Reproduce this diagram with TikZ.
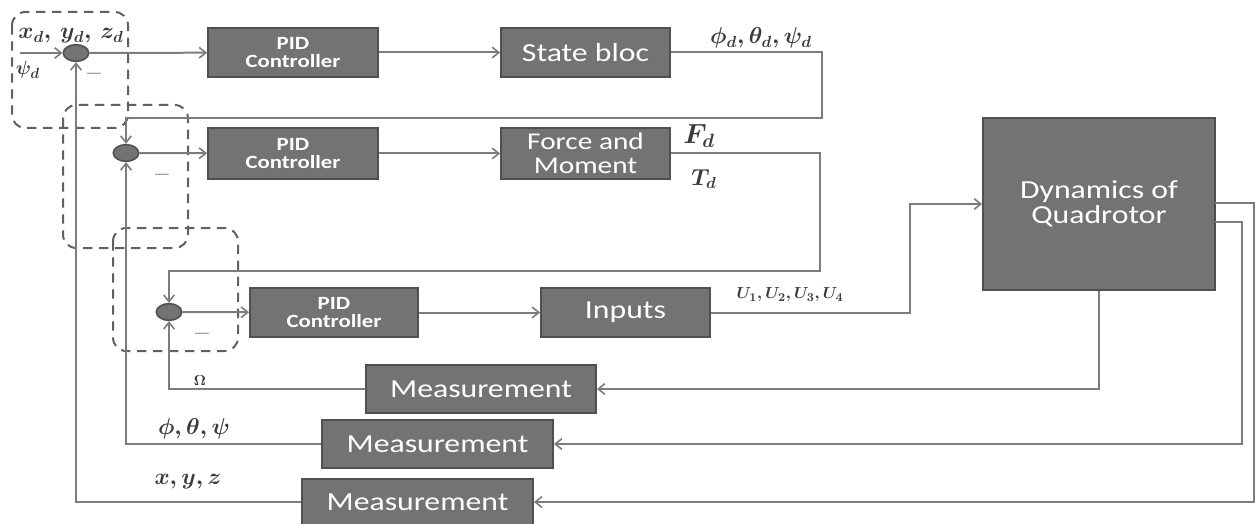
\documentclass[tikz,border=0pt]{standalone}
\usepackage{fontspec}
\usepackage{amsmath}
\usepackage{bm}
\newfontfamily\boxfont{Carlito}[FakeStretch=1.22]
\usetikzlibrary{arrows.meta,shapes.geometric}
\definecolor{boxfill}{HTML}{737373}
\definecolor{boxline}{HTML}{505050}
\definecolor{wire}{HTML}{7C7C7C}
\definecolor{lbl}{HTML}{3A3A3A}
\tikzset{
  blk/.style={draw=boxline, line width=1.4pt, fill=boxfill, text=white, font=\boxfont\fontsize{19.5}{20}\selectfont, align=center, inner sep=0pt},
  pidblk/.style={blk, font=\boxfont\bfseries\fontsize{14}{14}\selectfont},
  summer/.style={ellipse, draw=boxline, line width=1.2pt, fill=boxfill, minimum width=19pt, minimum height=12.5pt, inner sep=0pt},
  wirel/.style={draw=wire, line width=1.5pt},
  arr/.style={wirel, -{Straight Barb[length=5pt,width=8pt,line width=1.2pt]}},
  dbox/.style={draw=boxline!90, line width=1.5pt, dash pattern=on 7pt off 5pt, rounded corners=10pt},
  mlbl/.style={text=lbl, inner sep=0pt},
}
\begin{document}
\begin{tikzpicture}[x=0.75pt,y=-0.75pt]
\useasboundingbox (0,0) rectangle (1255,524);

% dashed groups
\draw[dbox] (12,12) rectangle (128,128);
\draw[dbox] (63,105) rectangle (188,248);
\draw[dbox] (113,228) rectangle (238,351);

% summers
\node[summer] (s1) at (76,53) {};
\node[summer] (s2) at (126,153) {};
\node[summer] (s3) at (169,312) {};

% blocks
\node[pidblk, minimum width=127.5pt, minimum height=36.75pt] (pid1) at (293,52.5) {PID\\Controller};
\node[blk, minimum width=126.75pt, minimum height=36.75pt] (state) at (585.5,52.5) {State bloc};
\node[pidblk, minimum width=127.5pt, minimum height=38.25pt] (pid2) at (293,153.5) {PID\\Controller};
\node[blk, minimum width=126.75pt, minimum height=38.25pt, font=\boxfont\fontsize{18}{18}\selectfont] (force) at (585.5,153.5) {Force and\\Moment};
\node[pidblk, minimum width=126pt, minimum height=36.75pt] (pid3) at (334,312.5) {PID\\Controller};
\node[blk, minimum width=126.75pt, minimum height=36.75pt] (inputs) at (625.5,312.5) {Inputs};
\node[blk, minimum width=174pt, minimum height=129pt, font=\boxfont\fontsize{19.5}{19}\selectfont] (dyn) at (1099,204) {Dynamics of\\Quadrotor};
\node[blk, minimum width=172.5pt, minimum height=36pt] (m1) at (481,389) {Measurement};
\node[blk, minimum width=173.25pt, minimum height=36pt] (m2) at (437.5,444) {Measurement};
\node[blk, minimum width=173.25pt, minimum height=34pt] (m3) at (417.5,502) {Measurement};

% coordinates
\coordinate (in1) at (20,53);
\coordinate (c1) at (822,118);
\coordinate (c2) at (820,271);
\coordinate (c3) at (910,204);
\coordinate (d2) at (1215,222);
\coordinate (c4) at (1242,444);
\coordinate (d3) at (1215,203);
\coordinate (c5) at (1254,502);

% forward paths
\draw[arr] (in1) -- (s1);
\draw[arr] (s1) -- (pid1);
\draw[arr] (pid1) -- (state);
\draw[arr] (state.east) -| (c1) -| (s2);
\draw[arr] (s2) -- (pid2);
\draw[arr] (pid2) -- (force);
\draw[arr] (force.east) -| (c2) -| (s3);
\draw[arr] (s3) -- (pid3);
\draw[arr] (pid3) -- (inputs);
\draw[arr] (inputs.east) -| (c3) -- (dyn.west);

% feedback paths
\draw[arr] (dyn.south) |- (m1.east);
\draw[arr] (m1.west) -| (s3);
\draw[arr] (d2) -| (c4) -- (m2.east);
\draw[arr] (m2.west) -| (s2);
\draw[arr] (d3) -| (c5) -- (m3.east);
\draw[arr] (m3.west) -| (s1);

% labels
\node[mlbl, font=\boldmath\fontsize{18}{18}\selectfont] (lxd) at (71,36) {$x_d,\,y_d,\,z_d$};
\node[mlbl, font=\boldmath\fontsize{15}{15}\selectfont] (lpsid) at (28,70) {$\psi_d$};
\node[mlbl, font=\boldmath\fontsize{17}{17}\selectfont] (lang) at (761,38) {$\phi_d,\theta_d,\psi_d$};
\node[mlbl, font=\boldmath\fontsize{20}{20}\selectfont] (lfd) at (699,136) {$F_d$};
\node[mlbl, font=\boldmath\fontsize{18}{18}\selectfont] (ltd) at (704,179) {$T_d$};
\node[mlbl, font=\boldmath\fontsize{13}{13}\selectfont] (lu) at (790,295) {$U_1,U_2,U_3,U_4$};
\node[mlbl, font=\boldmath\fontsize{11}{11}\selectfont] (lom) at (200,380) {$\Omega$};
\node[mlbl, font=\boldmath\fontsize{16}{16}\selectfont] (lphi) at (194,429) {$\phi,\theta,\psi$};
\node[mlbl, font=\boldmath\fontsize{18}{18}\selectfont] (lxyz) at (188,482) {$x,y,z$};

% minus signs
\node[mlbl, text=wire, font=\fontsize{16}{16}\selectfont] (m1s) at (94,74) {$-$};
\node[mlbl, text=wire, font=\fontsize{16}{16}\selectfont] (m2s) at (162,175) {$-$};
\node[mlbl, text=wire, font=\fontsize{16}{16}\selectfont] (m3s) at (202,334) {$-$};
\end{tikzpicture}
\end{document}
